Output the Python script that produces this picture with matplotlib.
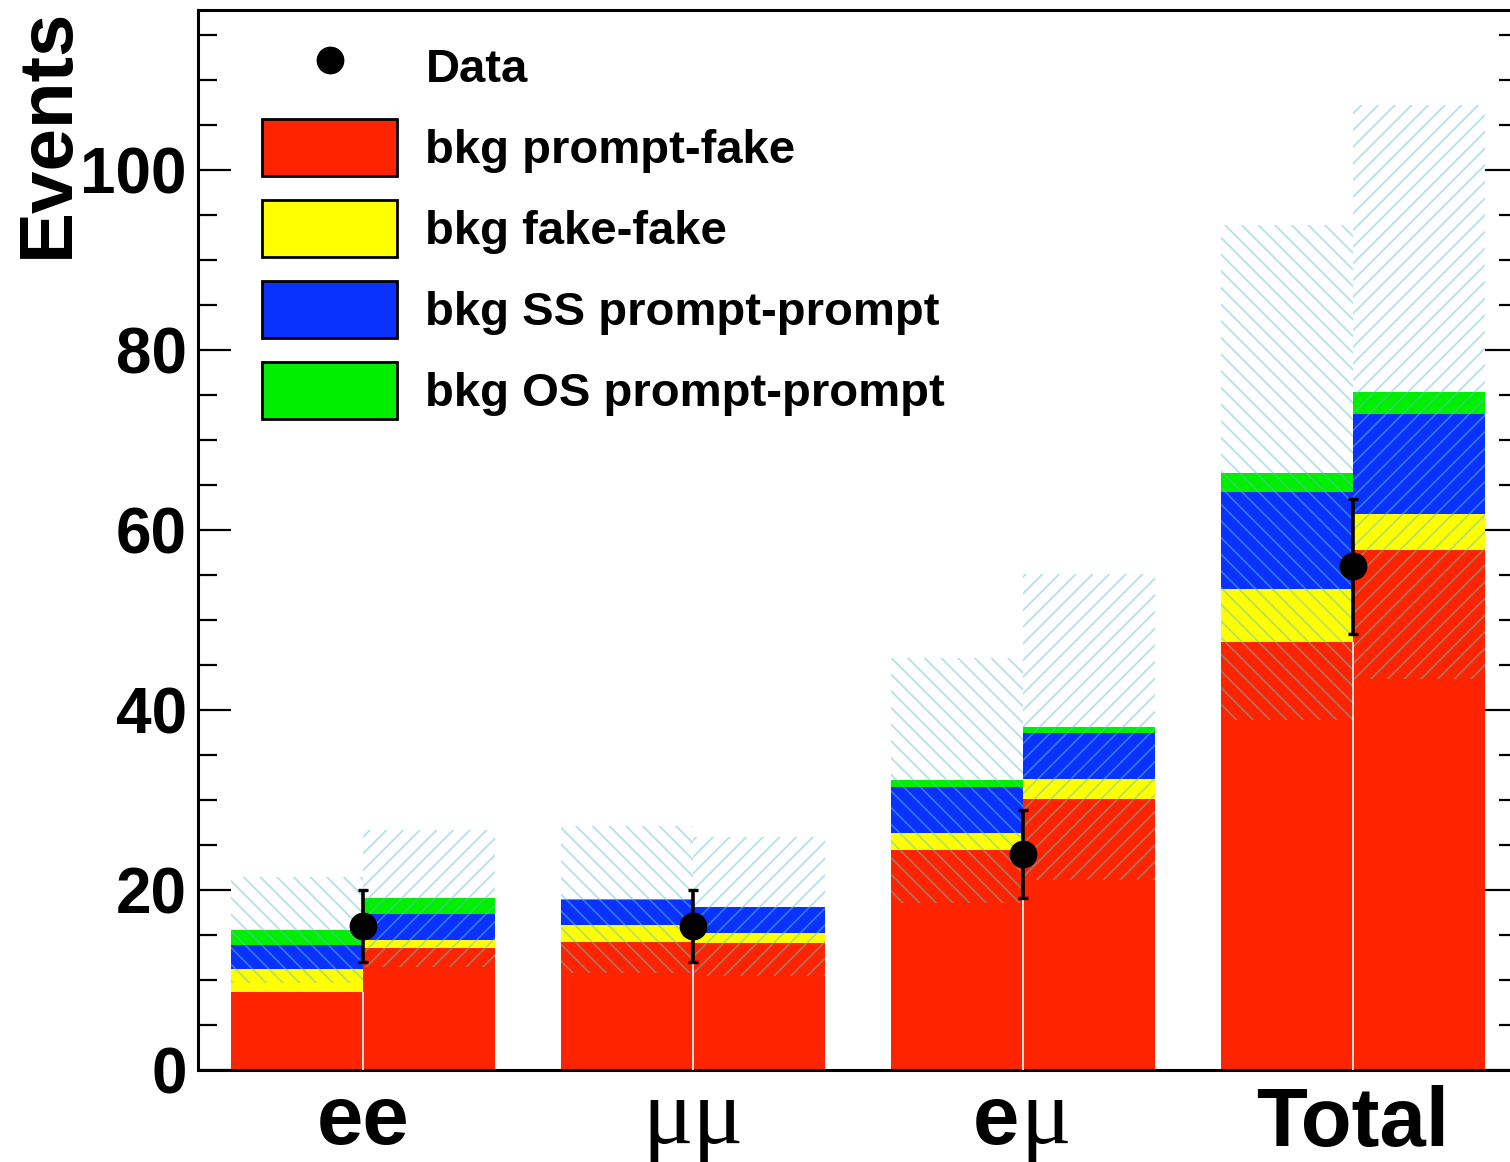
import numpy as np
import matplotlib
matplotlib.use('Agg')
import matplotlib.pyplot as plt
from matplotlib.patches import Patch
from matplotlib.lines import Line2D
import matplotlib.transforms as mtransforms

plt.rcParams['font.family'] = ['Liberation Sans', 'DejaVu Sans']
plt.rcParams['font.weight'] = 'bold'
plt.rcParams['hatch.linewidth'] = 1.2

# ---- data ----
channels = ['ee', 'μμ', 'eμ', 'Total']
components = ['bkg prompt-fake', 'bkg fake-fake', 'bkg SS prompt-prompt', 'bkg OS prompt-prompt']
colors = ['#ff2400', '#ffff00', '#0a32ff', '#00ee00']

# left bar of each channel
left_fake = [8.7, 14.2, 24.5, 47.6]
left_ff = [2.5, 1.9, 1.8, 5.8]
left_ss = [2.7, 2.8, 5.1, 10.8]
left_os = [1.7, 0.05, 0.8, 2.2]
left_err = [5.9, 8.2, 13.6, 27.5]

# right bar of each channel
right_fake = [13.6, 14.1, 30.1, 57.8]
right_ff = [0.8, 1.1, 2.2, 4.0]
right_ss = [2.9, 2.9, 5.1, 11.1]
right_os = [1.8, 0.05, 0.7, 2.4]
right_err = [7.6, 7.7, 17.0, 31.9]

data_obs = [16, 16, 24, 56]
data_err = [4.0, 4.0, 4.9, 7.5]

HATCH_C = (0.36, 0.76, 0.79, 0.5)   # light cyan, half see-through
W = 0.4

fig = plt.figure(figsize=(15.10, 11.62), dpi=100, facecolor='white')
ax = fig.add_axes([198/1510, 92/1162, 1320/1510, 1060/1162])
x = np.arange(len(channels)) + 0.5

def stack(xpos, parts, err, hatch):
    bottom = np.zeros(len(xpos))
    for vals, c in zip(parts, colors):
        ax.bar(xpos, vals, W, bottom=bottom, color=c, align='edge', lw=0, zorder=2)
        bottom = bottom + np.array(vals)
    err = np.array(err)
    ax.bar(xpos, 2*err, W, bottom=bottom - err, align='edge', facecolor='none',
           edgecolor=HATCH_C, lw=0, hatch=hatch, zorder=3)
    return bottom

stack(x - W, [left_fake, left_ff, left_ss, left_os], left_err, '\\\\')
stack(x, [right_fake, right_ff, right_ss, right_os], right_err, '//')
ax.vlines(x, 0, np.minimum(left_fake, right_fake), color='white', lw=1.2, zorder=4)

ax.errorbar(x, data_obs, yerr=data_err, fmt='o', color='black', ms=19,
            elinewidth=2.6, capsize=3.6, capthick=2.4, zorder=6)

ax.set_xlim(0, 4)
ax.set_ylim(0, 117.8)
ax.set_xticks([])
ax.set_yticks(np.arange(0, 101, 20))
ax.set_yticks(np.arange(0, 116, 5), minor=True)
ax.tick_params(axis='y', which='both', direction='in', right=True, width=1.6, pad=8)
ax.tick_params(axis='y', which='major', length=24, labelsize=46)
ax.tick_params(axis='y', which='minor', length=14)
for s in ax.spines.values():
    s.set_linewidth(2.2)
for lab in ax.get_yticklabels():
    lab.set_fontweight('bold')

# category labels
tr = mtransforms.blended_transform_factory(ax.transData, ax.transAxes)
ax.text(x[0], -0.012, 'ee', transform=tr, ha='center', va='top', fontsize=60, fontweight='bold')
ax.text(x[1], -0.008, 'μμ', transform=tr, ha='center', va='top', fontsize=68,
        family='Liberation Serif', fontweight='normal')
ax.text(x[2] - 0.012, -0.012, 'e', transform=tr, ha='right', va='top', fontsize=60, fontweight='bold')
ax.text(x[2] - 0.008, -0.008, 'μ', transform=tr, ha='left', va='top', fontsize=68,
        family='Liberation Serif', fontweight='normal')
ax.text(x[3], -0.014, 'Total', transform=tr, ha='center', va='top', fontsize=60, fontweight='bold')

fig.text(48/1510, 1 - 8/1162, 'Events', rotation=90, ha='center', va='top',
         fontsize=55, fontweight='bold')

handles = [Line2D([], [], marker='o', color='black', ls='none', ms=19)]
handles += [Patch(facecolor=c, edgecolor='black', lw=2) for c in colors]
ax.legend(handles, ['Data'] + components, loc='upper left', bbox_to_anchor=(0.0485, 0.9736),
          frameon=False, borderpad=0, borderaxespad=0,
          handlelength=2.86, handleheight=1.49, labelspacing=0.5, handletextpad=0.6,
          prop={'weight': 'bold', 'size': 34})

fig.savefig('out.png', dpi=100, facecolor='white')
